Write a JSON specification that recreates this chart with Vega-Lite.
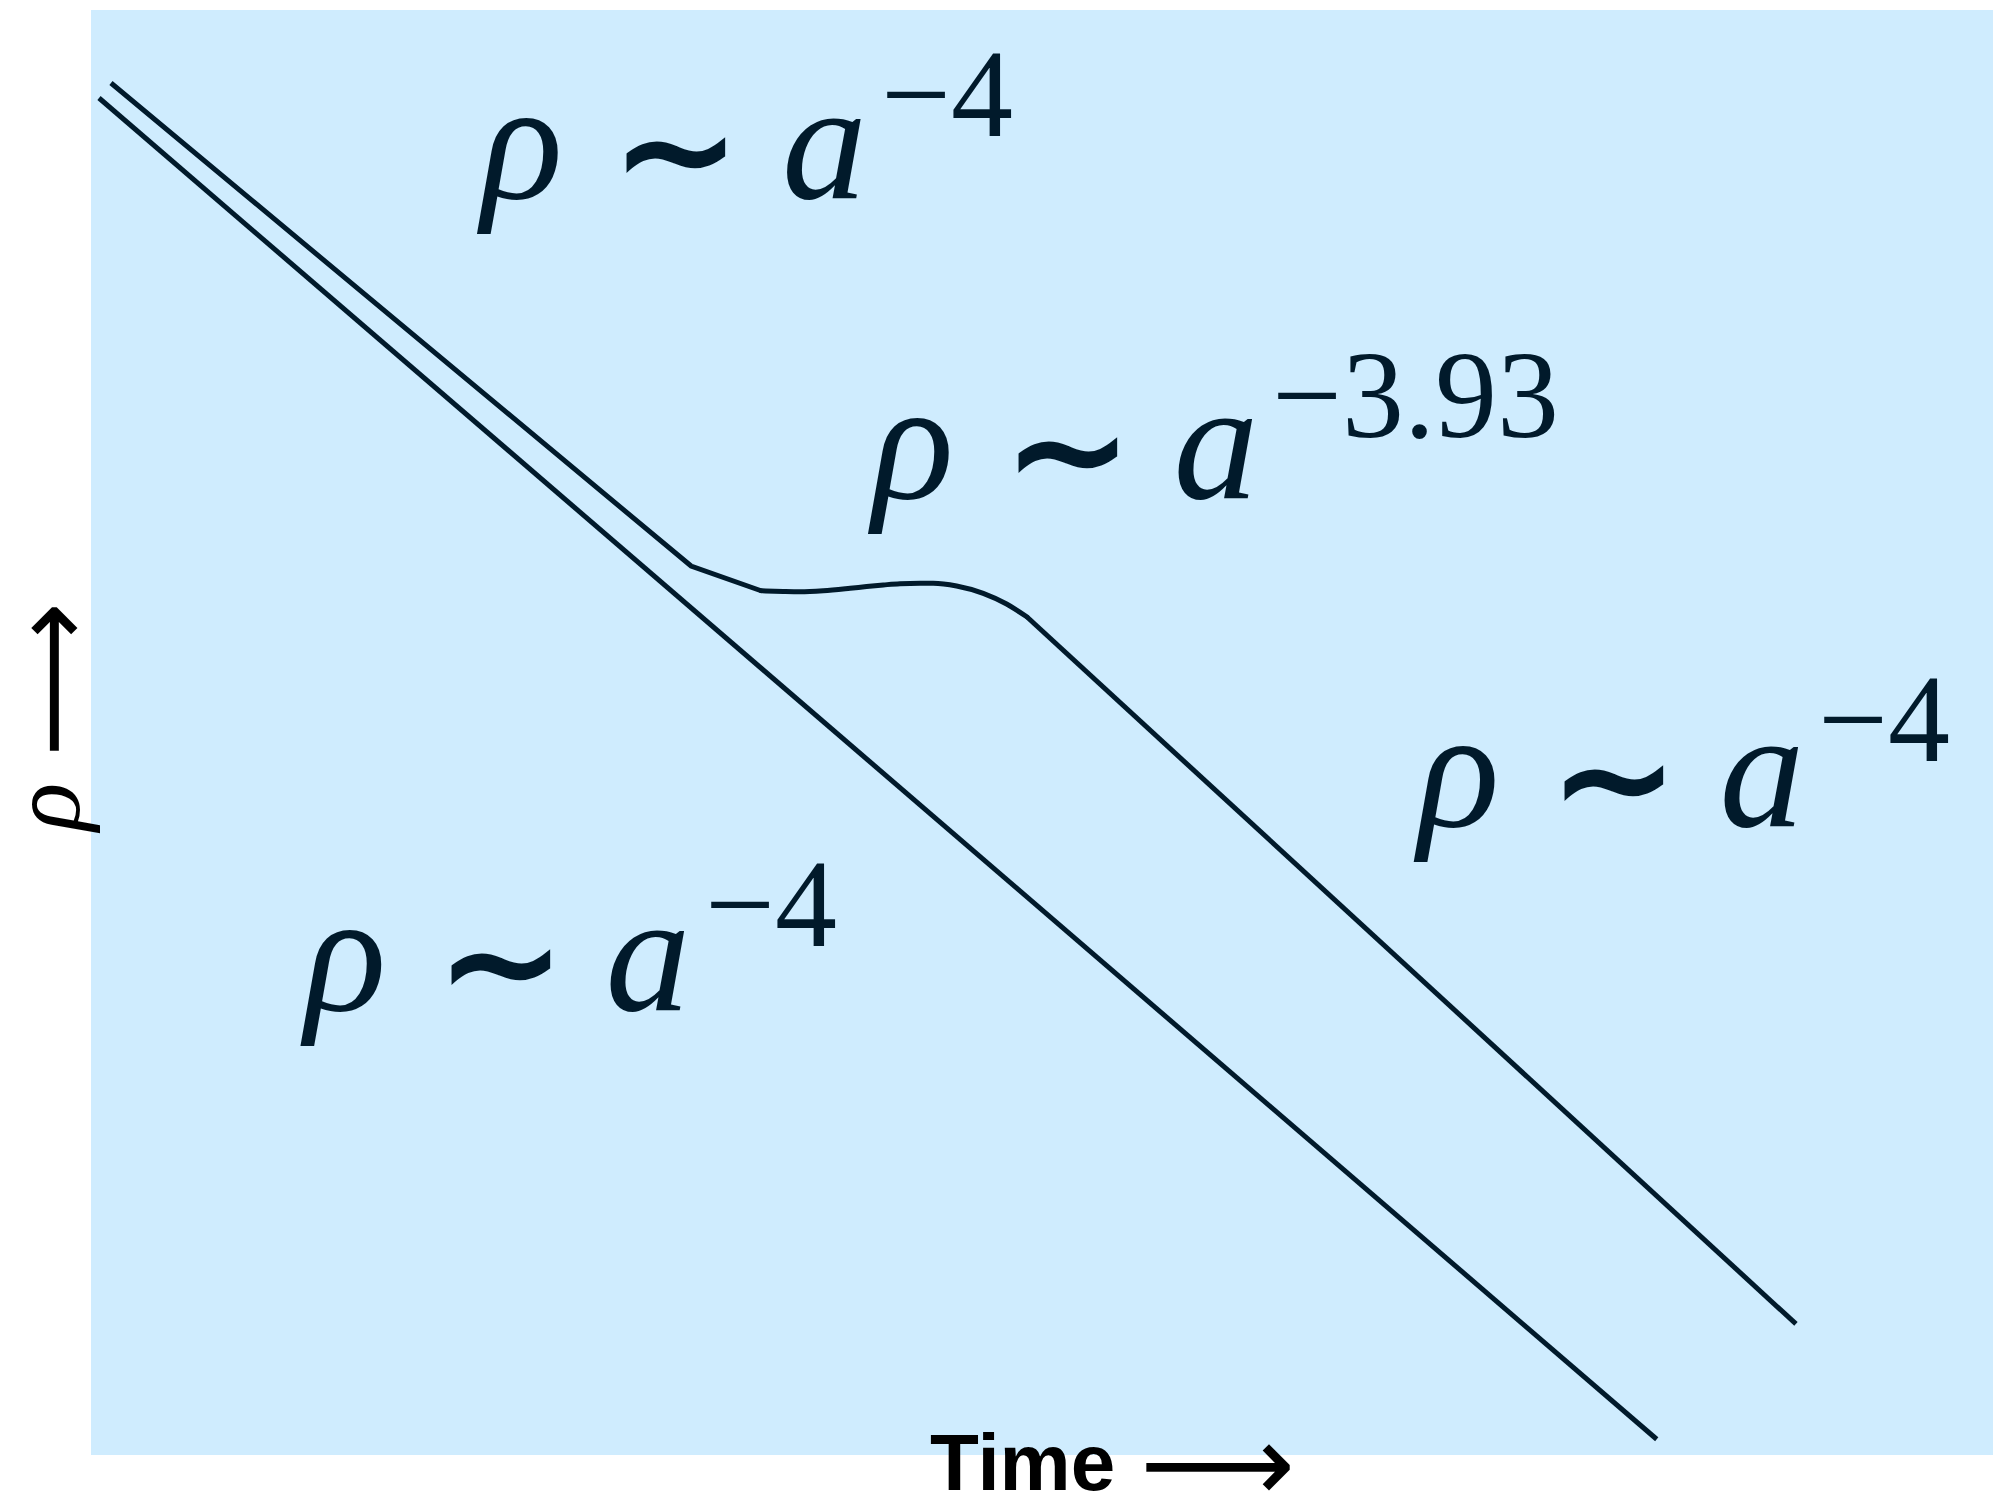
{
  "$schema": "https://vega.github.io/schema/vega-lite/v6.json",
  "width": 1902,
  "height": 1445,
  "autosize": {"type": "none"},
  "padding": {"left": 91, "top": 10, "right": 0, "bottom": 41},
  "background": "white",
  "config": {"view": {"fill": "#CFECFE", "stroke": null}},
  "datasets": {
    "straight": [
      {"series": "radiation", "step": 1, "time": 0.42, "logrho": 93.91},
      {"series": "radiation", "step": 2, "time": 82.32, "logrho": 1.09},
      {"series": "early", "step": 1, "time": 1.05, "logrho": 94.95},
      {"series": "early", "step": 2, "time": 31.55, "logrho": 61.52},
      {"series": "early", "step": 3, "time": 35.23, "logrho": 59.81},
      {"series": "late", "step": 1, "time": 49.2, "logrho": 58.01},
      {"series": "late", "step": 2, "time": 89.64, "logrho": 9.07}
    ],
    "transition": [
      {"step": 1, "time": 35.23, "logrho": 59.81},
      {"step": 2, "time": 36.4, "logrho": 59.76},
      {"step": 3, "time": 37.28, "logrho": 59.74},
      {"step": 4, "time": 38.5, "logrho": 59.81},
      {"step": 5, "time": 39.91, "logrho": 59.98},
      {"step": 6, "time": 40.78, "logrho": 60.1},
      {"step": 7, "time": 41.66, "logrho": 60.21},
      {"step": 8, "time": 42.53, "logrho": 60.3},
      {"step": 9, "time": 43.6, "logrho": 60.33},
      {"step": 10, "time": 44.28, "logrho": 60.33},
      {"step": 11, "time": 45.51, "logrho": 60.14},
      {"step": 12, "time": 46.91, "logrho": 59.63},
      {"step": 13, "time": 48.14, "logrho": 58.89},
      {"step": 14, "time": 49.2, "logrho": 58.01}
    ],
    "formulas": [
      {"role": "symbol", "time": 22.66, "logrho": 86.99, "text": "ρ"},
      {"role": "relation", "time": 30.78, "logrho": 86.7, "text": "∼"},
      {"role": "symbol", "time": 38.56, "logrho": 86.99, "text": "a"},
      {"role": "exponent", "time": 41.54, "logrho": 91.3, "text": "−4"},
      {"role": "symbol", "time": 43.22, "logrho": 66.23, "text": "ρ"},
      {"role": "relation", "time": 51.37, "logrho": 65.94, "text": "∼"},
      {"role": "symbol", "time": 59.15, "logrho": 66.23, "text": "a"},
      {"role": "exponent", "time": 62.09, "logrho": 70.45, "text": "−3.93"},
      {"role": "symbol", "time": 71.92, "logrho": 43.53, "text": "ρ"},
      {"role": "relation", "time": 80.06, "logrho": 43.24, "text": "∼"},
      {"role": "symbol", "time": 87.85, "logrho": 43.53, "text": "a"},
      {"role": "exponent", "time": 90.8, "logrho": 48.05, "text": "−4"},
      {"role": "symbol", "time": 13.38, "logrho": 30.8, "text": "ρ"},
      {"role": "relation", "time": 21.53, "logrho": 30.51, "text": "∼"},
      {"role": "symbol", "time": 29.28, "logrho": 30.8, "text": "a"},
      {"role": "exponent", "time": 32.28, "logrho": 35.25, "text": "−4"}
    ],
    "titles": [
      {"role": "timeWord", "time": 44.11, "logrho": -2.42, "text": "Time"},
      {"role": "timeArrow", "time": 59.23, "logrho": -3.18, "text": "⟶"},
      {"role": "rhoSymbol", "time": -0.63, "logrho": 44.87, "text": "ρ"},
      {"role": "rhoArrow", "time": -0.17, "logrho": 53.67, "text": "⟶"}
    ]
  },
  "encoding": {
    "x": {"field": "time", "type": "quantitative", "scale": {"domain": [0, 100], "nice": false, "zero": false}, "axis": null},
    "y": {"field": "logrho", "type": "quantitative", "scale": {"domain": [0, 100], "nice": false, "zero": false}, "axis": null}
  },
  "layer": [
    {
      "data": {"name": "straight"},
      "mark": {"type": "line", "color": "#011A2B", "strokeWidth": 5, "clip": false},
      "encoding": {
        "detail": {"field": "series", "type": "nominal"},
        "order": {"field": "step", "type": "quantitative"}
      }
    },
    {
      "data": {"name": "transition"},
      "mark": {"type": "line", "color": "#011A2B", "strokeWidth": 5, "interpolate": "monotone", "strokeCap": "round", "clip": false},
      "encoding": {
        "order": {"field": "step", "type": "quantitative"}
      }
    },
    {
      "data": {"name": "formulas"},
      "transform": [{"filter": "datum.role === 'symbol'"}],
      "mark": {"type": "text", "font": "Times New Roman, Tinos, Liberation Serif, serif", "fontStyle": "italic", "fontSize": 170, "align": "center", "baseline": "alphabetic", "color": "#011A2B"},
      "encoding": {"text": {"field": "text"}}
    },
    {
      "data": {"name": "formulas"},
      "transform": [{"filter": "datum.role === 'relation'"}],
      "mark": {"type": "text", "font": "Times New Roman, Tinos, Liberation Serif, serif", "fontWeight": "bold", "fontSize": 150, "align": "center", "baseline": "alphabetic", "color": "#011A2B"},
      "encoding": {"text": {"field": "text"}}
    },
    {
      "data": {"name": "formulas"},
      "transform": [{"filter": "datum.role === 'exponent'"}],
      "mark": {"type": "text", "font": "Times New Roman, Tinos, Liberation Serif, serif", "fontSize": 124, "align": "left", "baseline": "alphabetic", "color": "#011A2B"},
      "encoding": {"text": {"field": "text"}}
    },
    {
      "data": {"name": "titles"},
      "transform": [{"filter": "datum.role === 'timeWord'"}],
      "mark": {"type": "text", "font": "Liberation Sans, Arial, Helvetica, sans-serif", "fontWeight": "bold", "fontSize": 80, "align": "left", "baseline": "alphabetic", "color": "black"},
      "encoding": {"text": {"field": "text"}}
    },
    {
      "data": {"name": "titles"},
      "transform": [{"filter": "datum.role === 'timeArrow'"}],
      "mark": {"type": "text", "font": "DejaVu Sans", "fontSize": 108, "align": "center", "baseline": "alphabetic", "color": "black"},
      "encoding": {"text": {"field": "text"}}
    },
    {
      "data": {"name": "titles"},
      "transform": [{"filter": "datum.role === 'rhoSymbol'"}],
      "mark": {"type": "text", "font": "Times New Roman, Tinos, Liberation Serif, serif", "fontStyle": "italic", "fontSize": 100, "angle": 270, "align": "center", "baseline": "alphabetic", "color": "black"},
      "encoding": {"text": {"field": "text"}}
    },
    {
      "data": {"name": "titles"},
      "transform": [{"filter": "datum.role === 'rhoArrow'"}],
      "mark": {"type": "text", "font": "DejaVu Sans", "fontSize": 108, "angle": 270, "align": "center", "baseline": "alphabetic", "color": "black"},
      "encoding": {"text": {"field": "text"}}
    }
  ]
}
